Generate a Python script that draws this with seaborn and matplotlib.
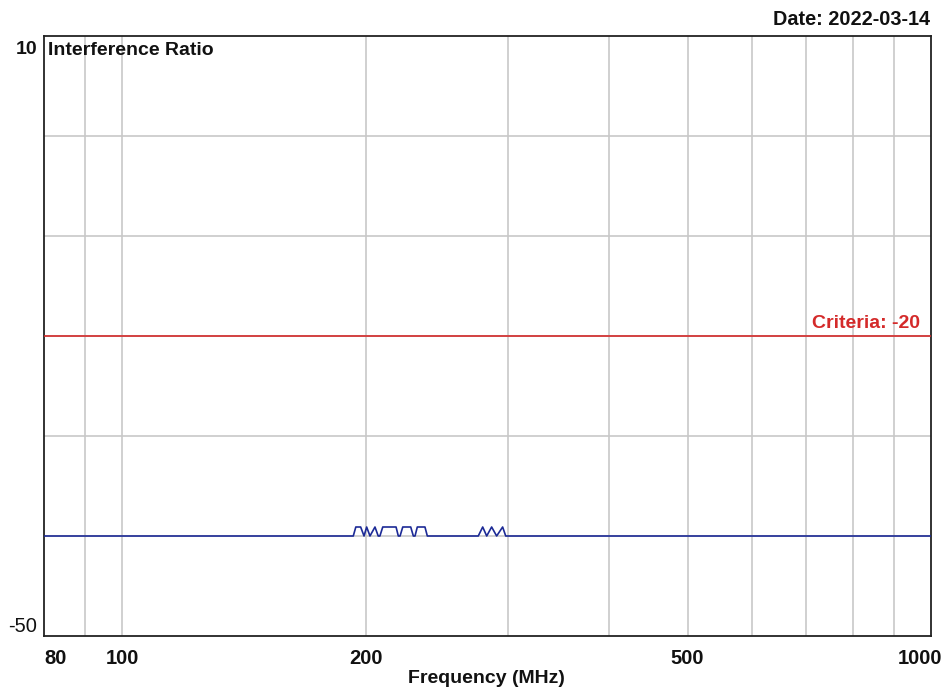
import matplotlib
matplotlib.use("Agg")
import matplotlib.pyplot as plt
import matplotlib.transforms as mtransforms
from matplotlib.ticker import FixedLocator, NullFormatter, NullLocator
import numpy as np
import pandas as pd
import seaborn as sns

# Interference ratio (dB) against frequency (MHz)
freq_mhz = [80, 193.0, 194.4, 197.1, 199.0, 200.5, 202.4, 205.3, 207.2, 208.2,
            209.9, 218.0, 219.4, 220.5, 222.2, 227.3, 229.0, 230.1, 231.6, 236.7,
            238.3, 275.5, 279.0, 282.2, 286.2, 290.3, 295.3, 297.9, 1000]
ratio_db = [-40, -40, -39.1, -39.1, -40, -39.1, -40, -39.1, -40, -40,
            -39.1, -39.1, -40, -40, -39.1, -39.1, -40, -40, -39.1, -39.1,
            -40, -40, -39.1, -40, -39.1, -40, -39.1, -40, -40]
criteria_db = -20

x_range = [80, 1000]
y_range = [-50, 10]
x_tick_values = [80, 100, 200, 500, 1000]
x_grid_values = [90, 100, 200, 300, 400, 500, 600, 700, 800, 900]
y_grid_values = [0, -10, -20, -30, -40]
title_text = "Interference Ratio"
date_text = "Date: 2022-03-14"
x_label = "Frequency (MHz)"

sns.set_style("white")
plt.rcParams["font.family"] = ["Liberation Sans", "DejaVu Sans"]

W, H = 945, 693
fig = plt.figure(figsize=(W / 100, H / 100), dpi=100)
ax = fig.add_axes([44 / W, 1 - 636 / H, (931 - 44) / W, (636 - 36) / H])

def px_shift(dx, dy):
    return mtransforms.ScaledTranslation(dx / 100, dy / 100, fig.dpi_scale_trans)

grid_color = "#c8c8c8"
for gx in x_grid_values:
    ax.axvline(gx, color=grid_color, lw=1.2, zorder=0)
for gy in y_grid_values:
    ax.axhline(gy, color=grid_color, lw=1.2, zorder=0)

df = pd.DataFrame({"freq": freq_mhz, "ratio": ratio_db})
sns.lineplot(data=df, x="freq", y="ratio", ax=ax, color="#1c2a96",
             lw=1.2, estimator=None, sort=False, zorder=3)

crit = pd.DataFrame({"freq": x_range, "ratio": [criteria_db, criteria_db]})
sns.lineplot(data=crit, x="freq", y="ratio", ax=ax, color="#d42a2a",
             lw=1.2, estimator=None, zorder=3)

ax.set_xscale("log")
ax.set_xlim(*x_range)
ax.set_ylim(*y_range)
ax.xaxis.set_major_locator(FixedLocator(x_tick_values))
ax.xaxis.set_minor_locator(NullLocator())
ax.xaxis.set_minor_formatter(NullFormatter())
ax.set_xticklabels([str(v) for v in x_tick_values])
ax.set_yticks(y_range)
ax.set_yticklabels([str(v) for v in y_range])
ax.tick_params(axis="both", length=0, labelsize=14.5, colors="#111111")
ax.tick_params(axis="x", pad=9)
ax.tick_params(axis="y", pad=5)
for lab in ax.get_xticklabels():
    lab.set_fontweight("bold")
    lab.set_va("top")
xl = ax.get_xticklabels()
xl[0].set_ha("left")
xl[-1].set_transform(xl[-1].get_transform() + px_shift(-11, 0))
yl = ax.get_yticklabels()
yl[0].set_va("bottom")
yl[0].set_fontweight("normal")
yl[1].set_va("top")
yl[1].set_fontweight("bold")
yl[1].set_fontsize(14)
yl[1].set_transform(yl[1].get_transform() + px_shift(0, -5))

for s in ax.spines.values():
    s.set_color("#222222")
    s.set_linewidth(1.3)
    s.set_visible(True)

ax.set_xlabel("")
ax.set_ylabel("")

fig.text(48 / W, 1 - 55 / H, title_text, fontsize=14, fontweight="bold",
         ha="left", va="baseline", color="#111111")
fig.text(930 / W, 1 - 25 / H, date_text, fontsize=14.3, fontweight="bold",
         ha="right", va="baseline", color="#111111")
fig.text(486 / W, 1 - 683 / H, x_label, fontsize=14, fontweight="bold",
         ha="center", va="baseline", color="#111111")
ax.text(0.9876, criteria_db, f"Criteria: {criteria_db}",
        transform=ax.get_yaxis_transform() + px_shift(0, 8),
        fontsize=14, fontweight="bold", color="#d42a2a", ha="right", va="baseline")

fig.savefig("out.png", dpi=100)
